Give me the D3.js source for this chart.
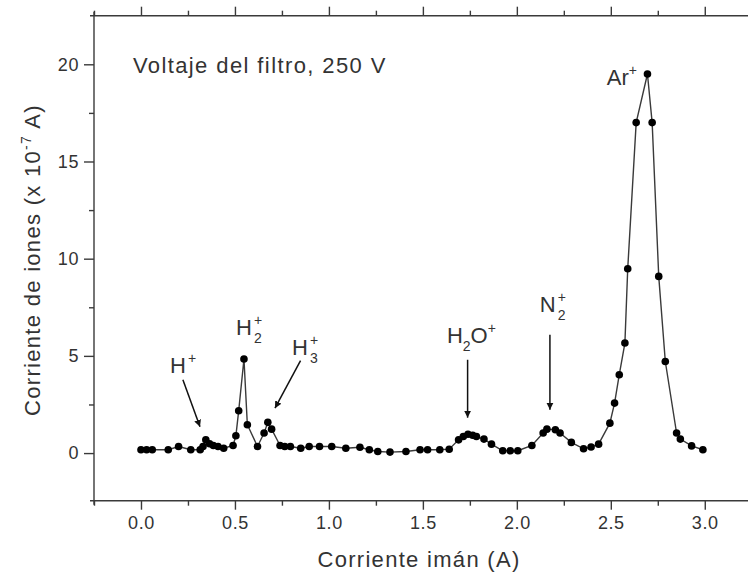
<!DOCTYPE html>
<html>
<head>
<meta charset="utf-8">
<script src="https://cdn.jsdelivr.net/npm/d3@7"></script>
<style>
  body { margin: 0; background: #fff; }
  svg { display: block; font-family: "Liberation Sans", Arial, sans-serif; }
</style>
</head>
<body>
<script>
// Corriente imán (A)
const imanCurrent = [0.0, 0.03, 0.06, 0.145, 0.20, 0.265, 0.315, 0.33, 0.345, 0.365, 0.385, 0.41, 0.44,
  0.49, 0.505, 0.52, 0.548, 0.566, 0.62, 0.655, 0.675, 0.695, 0.74, 0.765, 0.795, 0.85, 0.895, 0.95,
  1.015, 1.09, 1.165, 1.215, 1.26, 1.325, 1.41, 1.485, 1.525, 1.59, 1.64, 1.69, 1.715, 1.74, 1.765,
  1.785, 1.825, 1.865, 1.925, 1.965, 2.005, 2.08, 2.14, 2.16, 2.205, 2.23, 2.29, 2.355, 2.395, 2.435,
  2.495, 2.52, 2.545, 2.575, 2.59, 2.635, 2.695, 2.72, 2.755, 2.79, 2.85, 2.87, 2.93, 2.99];

// Corriente de iones (x 10^-7 A)
const ionCurrent = [0.17, 0.17, 0.17, 0.17, 0.34, 0.17, 0.17, 0.34, 0.68, 0.48, 0.39, 0.34, 0.25,
  0.39, 0.89, 2.18, 4.84, 1.46, 0.34, 1.03, 1.58, 1.23, 0.39, 0.34, 0.34, 0.25, 0.34, 0.34,
  0.34, 0.25, 0.30, 0.17, 0.08, 0.05, 0.08, 0.17, 0.17, 0.17, 0.20, 0.68, 0.85, 0.97, 0.92,
  0.85, 0.72, 0.46, 0.12, 0.12, 0.12, 0.39, 1.03, 1.23, 1.20, 1.03, 0.55, 0.22, 0.31, 0.46,
  1.54, 2.57, 4.03, 5.66, 9.48, 17.0, 19.5, 17.0, 9.09, 4.71, 1.03, 0.72, 0.37, 0.17];

const xMajorTicks = [0, 0.5, 1.0, 1.5, 2.0, 2.5, 3.0];
const xMinorTicks = [-0.25, 0.25, 0.75, 1.25, 1.75, 2.25, 2.75, 3.25];
const yMajorTicks = [0, 5, 10, 15, 20];
const yMinorTicks = [2.5, 7.5, 12.5, 17.5];

// peak labels: [base, subscript, superscript, x, y]
const peakLabels = [
  ["H", "", "+", 0.154, 4.1],
  ["H", "2", "+", 0.505, 6.09],
  ["H", "3", "+", 0.803, 5.06],
  ["N", "2", "+", 2.122, 7.27]
];
// arrows: [x1, y1, x2, y2]
const arrows = [
  [0.223, 3.77, 0.314, 1.35],
  [0.849, 4.76, 0.713, 2.31],
  [1.738, 4.8, 1.738, 1.82],
  [2.176, 6.09, 2.176, 2.23]
];

const width = 748, height = 581;
const data = imanCurrent.map((d, i) => ({ x: d, y: ionCurrent[i] }));

const x = d3.scaleLinear().domain([-0.25, 3.23]).range([94, 748]);
const y = d3.scaleLinear().domain([-2.45, 22.5]).range([500.7, 15.7]);

const svg = d3.select("body").append("svg")
  .attr("width", width)
  .attr("height", height);

const ink = "#333";
const lineInk = "#3a3a3a";

svg.append("defs").append("marker")
  .attr("id", "head")
  .attr("viewBox", "0 0 10 10")
  .attr("refX", 10).attr("refY", 5)
  .attr("markerWidth", 7).attr("markerHeight", 9)
  .attr("markerUnits", "userSpaceOnUse")
  .attr("orient", "auto")
  .append("path")
  .attr("d", "M0,0L10,5L0,10z")
  .attr("fill", "#111");

// axes
function styleAxis(g) {
  g.select(".domain").remove();
  g.selectAll(".tick line").attr("stroke", lineInk).attr("stroke-width", 1.4);
  g.selectAll(".tick text")
    .attr("fill", ink)
    .attr("font-size", 18)
    .attr("letter-spacing", 0.6)
    .attr("font-family", "Liberation Sans, Arial, sans-serif");
}

const [x0, x1] = x.range();
const [yb, yt] = y.range();

svg.append("g")
  .attr("transform", `translate(0,${yb})`)
  .call(d3.axisBottom(x).tickValues(xMajorTicks).tickFormat(d3.format(".1f"))
    .tickSize(9).tickSizeOuter(0).tickPadding(7))
  .call(styleAxis);
svg.append("g")
  .attr("transform", `translate(0,${yb})`)
  .call(d3.axisBottom(x).tickValues(xMinorTicks).tickFormat("").tickSize(5).tickSizeOuter(0))
  .call(styleAxis);

svg.append("g")
  .attr("transform", `translate(0,${yt})`)
  .call(d3.axisTop(x).tickValues(xMajorTicks).tickFormat("").tickSize(9).tickSizeOuter(0))
  .call(styleAxis);
svg.append("g")
  .attr("transform", `translate(0,${yt})`)
  .call(d3.axisTop(x).tickValues(xMinorTicks).tickFormat("").tickSize(5).tickSizeOuter(0))
  .call(styleAxis);

svg.append("g")
  .attr("transform", `translate(${x0},0)`)
  .call(d3.axisLeft(y).tickValues(yMajorTicks).tickSize(10).tickSizeOuter(0).tickPadding(5))
  .call(styleAxis);
svg.append("g")
  .attr("transform", `translate(${x0},0)`)
  .call(d3.axisLeft(y).tickValues(yMinorTicks).tickFormat("").tickSize(5).tickSizeOuter(0))
  .call(styleAxis);

// frame lines, slightly overhanging where they cross
const frame = svg.append("g").attr("stroke", lineInk).attr("stroke-width", 1.4);
frame.append("line").attr("x1", x0 - 4).attr("x2", x1).attr("y1", yb).attr("y2", yb);
frame.append("line").attr("x1", x0 - 4).attr("x2", x1).attr("y1", yt).attr("y2", yt);
frame.append("line").attr("x1", x0).attr("x2", x0).attr("y1", yt - 4).attr("y2", yb + 4);

// axis titles
svg.append("text")
  .attr("x", 419).attr("y", 567)
  .attr("text-anchor", "middle")
  .attr("font-size", 22)
  .attr("letter-spacing", 1.3)
  .attr("fill", ink)
  .text("Corriente imán (A)");

const yTitle = svg.append("text")
  .attr("transform", `translate(40,${260}) rotate(-90)`)
  .attr("text-anchor", "middle")
  .attr("font-size", 22)
  .attr("letter-spacing", 1.3)
  .attr("fill", ink);
yTitle.append("tspan").text("Corriente de iones (x 10");
yTitle.append("tspan").attr("dy", -9).attr("font-size", 14).text("-7");
yTitle.append("tspan").attr("dy", 9).text(" A)");

// series
const line = d3.line().x(d => x(d.x)).y(d => y(d.y));
svg.append("path")
  .datum(data)
  .attr("fill", "none")
  .attr("stroke", lineInk)
  .attr("stroke-width", 1.4)
  .attr("d", line);

svg.append("g")
  .selectAll("circle")
  .data(data)
  .join("circle")
  .attr("cx", d => x(d.x))
  .attr("cy", d => y(d.y))
  .attr("r", 3.8)
  .attr("fill", "#000");

// annotations
svg.append("text")
  .attr("x", x(-0.043)).attr("y", y(19.56))
  .attr("font-size", 22)
  .attr("letter-spacing", 1.4)
  .attr("fill", ink)
  .text("Voltaje del filtro, 250 V");

const ar = svg.append("text")
  .attr("x", x(2.479)).attr("y", y(18.94))
  .attr("font-size", 22)
  .attr("fill", ink);
ar.append("tspan").text("Ar");
ar.append("tspan").attr("dy", -10).attr("font-size", 14).text("+");

const h2o = svg.append("text")
  .attr("x", x(1.628)).attr("y", y(5.67))
  .attr("font-size", 22)
  .attr("fill", ink);
h2o.append("tspan").text("H");
h2o.append("tspan").attr("dy", 8).attr("font-size", 14).text("2");
h2o.append("tspan").attr("dy", -8).text("O");
h2o.append("tspan").attr("dy", -10).attr("font-size", 14).text("+");

peakLabels.forEach(([base, sub, sup, lx, ly]) => {
  const t = svg.append("text")
    .attr("x", x(lx)).attr("y", y(ly))
    .attr("font-size", 22)
    .attr("fill", ink);
  t.append("tspan").text(base);
  const bx = x(lx) + 18;
  if (sub) {
    t.append("tspan").attr("x", bx).attr("y", y(ly) + 8).attr("font-size", 14).text(sub);
  }
  t.append("tspan").attr("x", bx).attr("y", y(ly) - 10).attr("font-size", 14).text(sup);
});

svg.append("g")
  .selectAll("line")
  .data(arrows)
  .join("line")
  .attr("x1", d => x(d[0])).attr("y1", d => y(d[1]))
  .attr("x2", d => x(d[2])).attr("y2", d => y(d[3]))
  .attr("stroke", "#111")
  .attr("stroke-width", 1.5)
  .attr("marker-end", "url(#head)");
</script>
</body>
</html>
